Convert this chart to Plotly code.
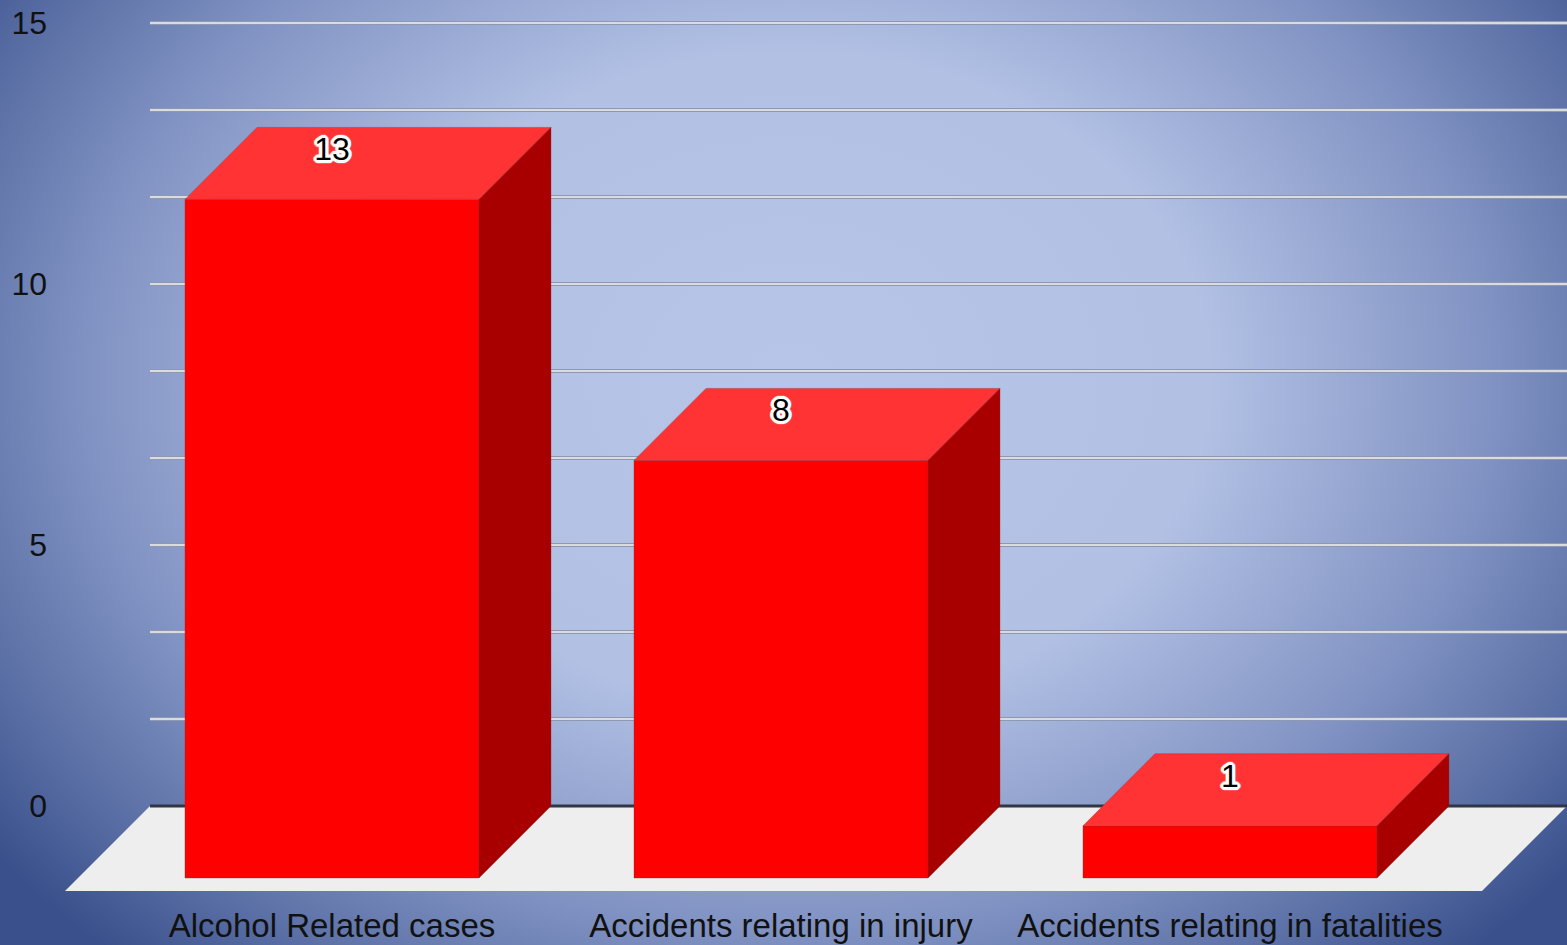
import base64
import plotly.graph_objects as go

# ---- data ----
categories = ["Alcohol Related cases", "Accidents relating in injury", "Accidents relating in fatalities"]
values = [13, 8, 1]
y_tick_vals = [0, 5, 10, 15]
y_tick_text = ["0", "5", "10", "15"]
grid_step = 15 / 9

# ---- style / geometry constants ----
W, H = 1567, 945
ML, MR, MT, MB = 50, 0, 0, 45
px_per_x = 449.0          # px per category unit
px_per_y = 52.2           # px per value unit
y0_px = 806               # pixel row of value 0 (from top)
x0_px = 332               # pixel column of first category front centre
DEPTH_X = 72 / px_per_x   # 3D depth offset in x units
DEPTH_Y = 72 / px_per_y   # 3D depth offset in y units
HALF_W = 147 / px_per_x   # half bar width
FLOOR_DX = 85 / px_per_x
FLOOR_DY = 85 / px_per_y

plot_w = W - ML - MR
plot_h = H - MT - MB
x_range = [(ML - x0_px) / px_per_x, (W - MR - x0_px) / px_per_x]
y_range = [(y0_px - (H - MB)) / px_per_y, (y0_px - MT) / px_per_y]

FRONT = "#ff0000"
TOP = "#ff3333"
SIDE = "#a80000"
FONT = "Liberation Sans, Arial, sans-serif"

fig = go.Figure()

# gridlines (behind bars)
back_left = x_range[0] + 100 / px_per_x
gx, gy = [], []
k = 1
while k * grid_step <= 15 + 1e-9:
    gx += [back_left, x_range[1], None]
    gy += [k * grid_step, k * grid_step, None]
    k += 1
fig.add_trace(go.Scatter(x=gx, y=gy, mode="lines", line=dict(color="#8f98b3", width=4),
                         hoverinfo="skip", showlegend=False))
fig.add_trace(go.Scatter(x=gx, y=gy, mode="lines", line=dict(color="#dadbde", width=2),
                         hoverinfo="skip", showlegend=False))

# floor
floor_right_front = x_range[1] - FLOOR_DX
floor_x = [back_left, x_range[1], floor_right_front, back_left - FLOOR_DX, back_left]
floor_y = [0, 0, -FLOOR_DY, -FLOOR_DY, 0]
fig.add_trace(go.Scatter(x=floor_x, y=floor_y, mode="lines", fill="toself",
                         fillcolor="#eeeeee", line=dict(width=0), hoverinfo="skip", showlegend=False))

# zero line (back wall base)
fig.add_trace(go.Scatter(x=[back_left, x_range[1]], y=[0, 0], mode="lines",
                         line=dict(color="#2f3645", width=3), hoverinfo="skip", showlegend=False))

# bars
fx, fy, tx, ty, sx, sy = [], [], [], [], [], []
for i, v in enumerate(values):
    xl, xr = i - HALF_W, i + HALF_W
    bot, top = -DEPTH_Y, v - DEPTH_Y
    fx += [xl, xr, xr, xl, xl, None]
    fy += [bot, bot, top, top, bot, None]
    tx += [xl, xl + DEPTH_X, xr + DEPTH_X, xr, xl, None]
    ty += [top, v, v, top, top, None]
    sx += [xr, xr + DEPTH_X, xr + DEPTH_X, xr, xr, None]
    sy += [bot, 0, v, top, bot, None]

for xs, ys, c in [(fx, fy, FRONT), (tx, ty, TOP), (sx, sy, SIDE)]:
    fig.add_trace(go.Scatter(x=xs, y=ys, mode="lines", fill="toself", fillcolor=c,
                             line=dict(width=0.6, color="rgba(140,40,40,0.6)"),
                             hoverinfo="skip", showlegend=False))

# data labels (black digits with a white outline)
outline = ", ".join(f"{a}px {b}px 0.8px #ffffff" for a, b in
                    [(-2, -2), (2, -2), (-2, 2), (2, 2), (0, 3), (3, 0), (0, -3), (-3, 0),
                     (-1, -3), (1, 3), (3, 1), (-3, -1), (1, -3), (-1, 3), (3, -1), (-3, 1)])
fig.add_trace(go.Scatter(
    x=list(range(len(values))), y=[v - 0.48 for v in values],
    mode="text", text=[str(v) for v in values],
    textfont=dict(family=FONT, size=32, color="#000000", shadow=outline),
    textposition="middle center", hoverinfo="skip", showlegend=False, cliponaxis=False))

# gradient background as an inline SVG
svg = f"""<svg xmlns='http://www.w3.org/2000/svg' width='{W}' height='{H}' viewBox='0 0 {W} {H}' preserveAspectRatio='none'>
<defs><radialGradient id='g' gradientUnits='userSpaceOnUse' cx='790' cy='380' r='1000'
 gradientTransform='translate(790 380) scale(1 0.78) translate(-790 -380)'>
<stop offset='0' stop-color='#b7c5e8'/>
<stop offset='0.42' stop-color='#b2c0e4'/>
<stop offset='0.7' stop-color='#8193c3'/>
<stop offset='0.88' stop-color='#586da3'/>
<stop offset='1' stop-color='#3a508c'/>
</radialGradient></defs>
<rect width='{W}' height='{H}' fill='url(#g)'/></svg>"""
src = "data:image/svg+xml;base64," + base64.b64encode(svg.encode()).decode()

fig.update_layout(
    width=W, height=H,
    margin=dict(l=ML, r=MR, t=MT, b=MB, pad=0),
    paper_bgcolor="#7f91c1", plot_bgcolor="rgba(0,0,0,0)",
    showlegend=False,
    images=[dict(source=src, xref="paper", yref="paper",
                 x=-ML / plot_w, y=1 + MT / plot_h, sizex=W / plot_w, sizey=H / plot_h,
                 xanchor="left", yanchor="top", sizing="stretch", layer="below")],
    xaxis=dict(range=x_range, tickmode="array", tickvals=list(range(len(categories))),
               ticktext=categories, showgrid=False, zeroline=False, showline=False,
               ticks="", automargin=False, fixedrange=True, ticklabelstandoff=3,
               tickfont=dict(family=FONT, size=33, color="#111111")),
    yaxis=dict(range=y_range, tickmode="array", tickvals=y_tick_vals, ticktext=y_tick_text,
               showgrid=False, zeroline=False, showline=False, ticks="", automargin=False,
               fixedrange=True, ticklabelstandoff=2,
               tickfont=dict(family=FONT, size=32, color="#111111")),
)

fig.write_html("out.html", config={"displayModeBar": False},
               post_script="document.body.style.margin='0';document.body.style.overflow='hidden';")
